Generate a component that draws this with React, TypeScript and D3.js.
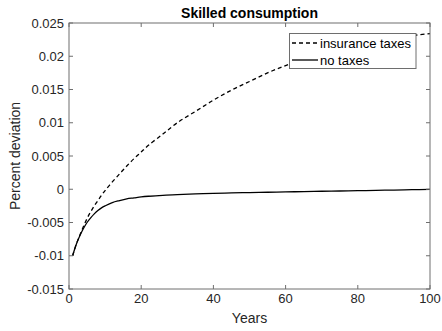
import React from "react";
import * as d3 from "d3";

const years = [1, 2, 3, 4, 5, 6, 7, 8, 9, 10, 12, 14, 16, 18, 20, 22, 26, 30, 35, 40, 45, 50, 55, 60, 65, 70, 75, 80, 85, 90, 95, 100];
const insuranceTaxes = [-0.0100, -0.0083, -0.0069, -0.0056, -0.0044, -0.0034, -0.0025, -0.0017, -0.0009, -0.0002, 0.0011, 0.0023, 0.0035, 0.0046, 0.0056, 0.0066, 0.0083, 0.0100, 0.0117, 0.0134, 0.0149, 0.0162, 0.0175, 0.0186, 0.0196, 0.0204, 0.0211, 0.0217, 0.0222, 0.0227, 0.0231, 0.0234];
const noTaxes = [-0.0100, -0.0083, -0.0070, -0.0059, -0.0050, -0.0043, -0.0037, -0.0032, -0.0028, -0.0025, -0.0020, -0.0017, -0.00145, -0.0013, -0.00115, -0.00105, -0.00092, -0.0008, -0.0007, -0.00063, -0.00056, -0.0005, -0.00045, -0.0004, -0.00035, -0.0003, -0.00026, -0.00022, -0.00017, -0.00012, -0.00007, -0.00003];
const xTicks = [0, 20, 40, 60, 80, 100];
const yTicks = [-0.015, -0.01, -0.005, 0, 0.005, 0.01, 0.015, 0.02, 0.025];
const yTickLabels = ["-0.015", "-0.01", "-0.005", "0", "0.005", "0.01", "0.015", "0.02", "0.025"];
const seriesNames = ["insurance taxes", "no taxes"];

const W = 442, H = 331;
const L = 69, R = 430, T = 23, B = 289;
const font = "'Liberation Sans', Arial, Helvetica, sans-serif";

export default function App() {
  const x = d3.scaleLinear().domain([0, 100]).range([L, R]);
  const y = d3.scaleLinear().domain([-0.015, 0.025]).range([B, T]);
  const line = d3.line<number>().x((_, i) => x(years[i])).y((d) => y(d)).curve(d3.curveCatmullRom.alpha(0.5));
  const axisColor = "#6e6e6e";
  const textColor = "#262626";
  const tl = 4;
  return (
    <svg width={W} height={H} style={{ position: "absolute", left: 0, top: 0, background: "#fff" }} fontFamily={font}>
      <rect x={0} y={0} width={W} height={H} fill="#fff" />
      <path d={line(noTaxes) || ""} fill="none" stroke="#000" strokeWidth={1.3} />
      <path d={line(insuranceTaxes) || ""} fill="none" stroke="#000" strokeWidth={1.3} strokeDasharray="4,3" />
      <rect x={L} y={T} width={R - L} height={B - T} fill="none" stroke={axisColor} strokeWidth={1} />
      {xTicks.map((t) => (
        <g key={"x" + t}>
          <line x1={x(t)} x2={x(t)} y1={B} y2={B - tl} stroke={axisColor} />
          <line x1={x(t)} x2={x(t)} y1={T} y2={T + tl} stroke={axisColor} />
          <text x={x(t)} y={302.5} textAnchor="middle" fontSize={13} fill={textColor}>{t}</text>
        </g>
      ))}
      {yTicks.map((t, i) => (
        <g key={"y" + t}>
          <line x1={L} x2={L + tl} y1={y(t)} y2={y(t)} stroke={axisColor} />
          <line x1={R} x2={R - tl} y1={y(t)} y2={y(t)} stroke={axisColor} />
          <text x={64} y={y(t) + 4.5} textAnchor="end" fontSize={13} fill={textColor}>{yTickLabels[i]}</text>
        </g>
      ))}
      <text x={(L + R) / 2} y={18} textAnchor="middle" fontSize={14} fontWeight="bold" fill="#000">Skilled consumption</text>
      <text x={(L + R) / 2} y={323} textAnchor="middle" fontSize={14} fill={textColor}>Years</text>
      <text transform={`translate(20,${(T + B) / 2}) rotate(-90)`} textAnchor="middle" fontSize={14} fill={textColor}>Percent deviation</text>
      <g>
        <rect x={289.5} y={33.5} width={126.5} height={35} fill="#fff" stroke={axisColor} strokeWidth={1} />
        <line x1={292} x2={318} y1={43} y2={43} stroke="#000" strokeWidth={1.3} strokeDasharray="4,3" />
        <text x={320} y={47.5} fontSize={13} fill="#000">{seriesNames[0]}</text>
        <line x1={292} x2={318} y1={60} y2={60} stroke="#000" strokeWidth={1.3} />
        <text x={320} y={64.5} fontSize={13} fill="#000">{seriesNames[1]}</text>
      </g>
    </svg>
  );
}
